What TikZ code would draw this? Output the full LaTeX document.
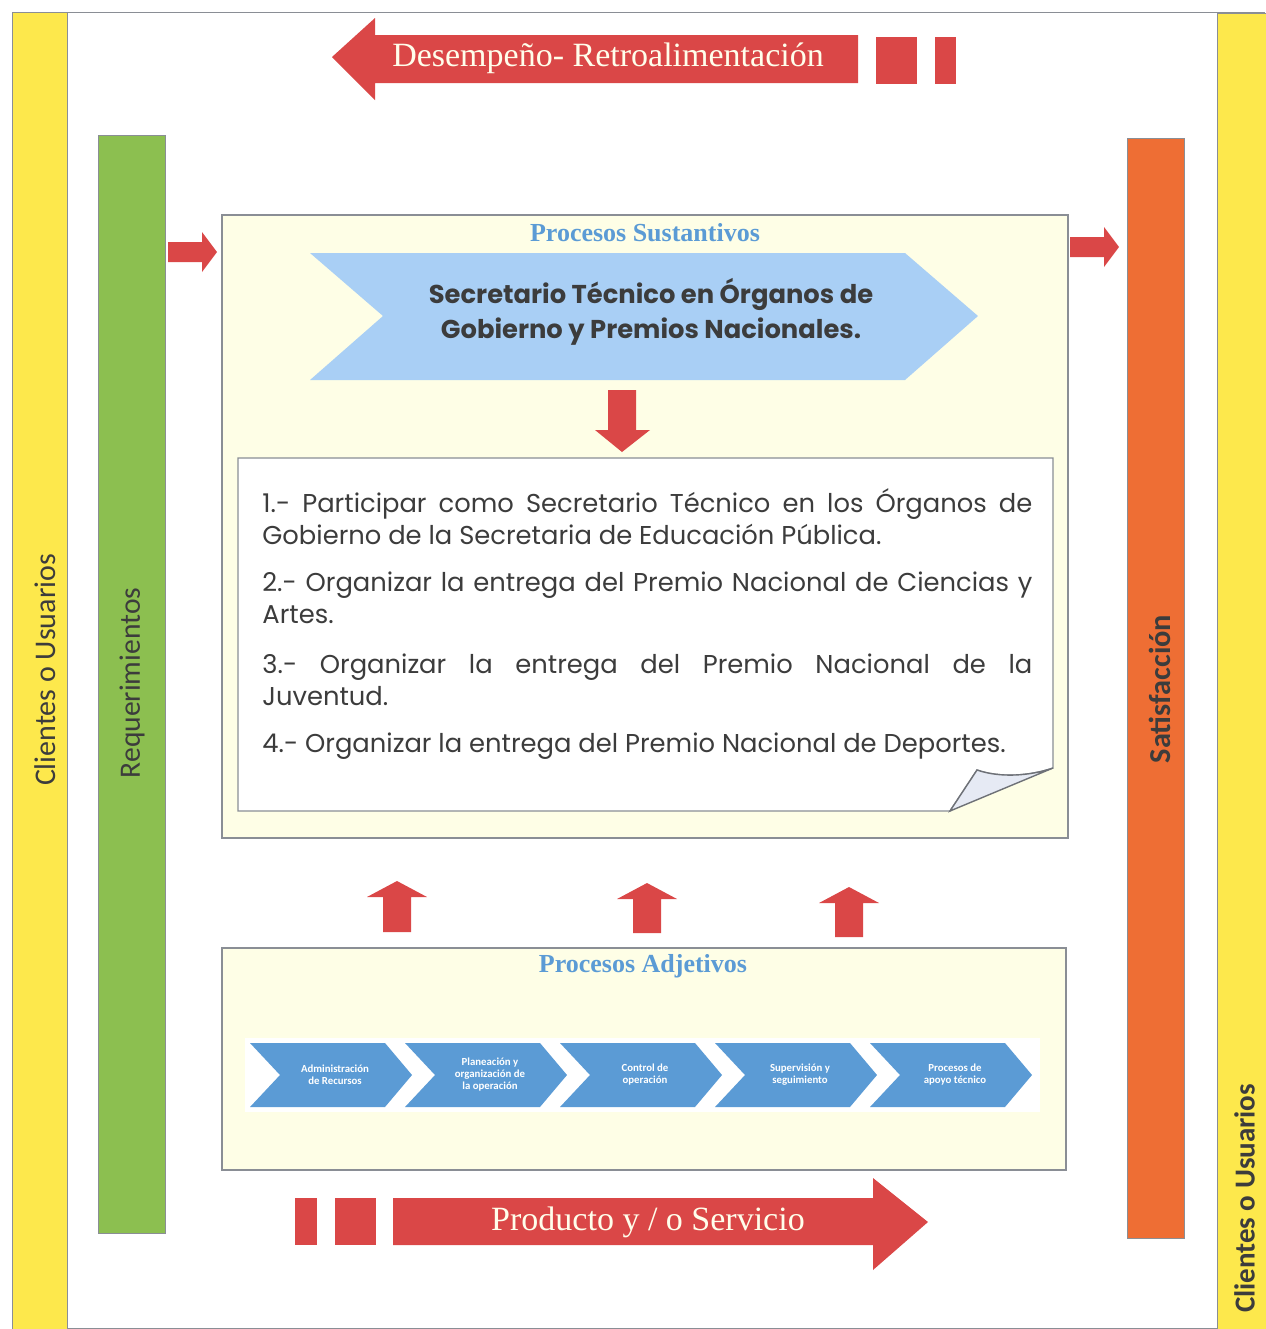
\documentclass[tikz,border=0pt]{standalone}
\usepackage{fontspec}
\setmainfont{Liberation Serif}
\setsansfont{Carlito}
\newfontfamily\gothic{Poppins}
\usetikzlibrary{positioning}

\definecolor{usuYellow}{HTML}{FDE84C}
\definecolor{reqGreen}{HTML}{8CBF50}
\definecolor{satOrange}{HTML}{EE6E34}
\definecolor{flowRed}{HTML}{DA4747}
\definecolor{procCream}{HTML}{FEFEE6}
\definecolor{titleBlue}{HTML}{5B9BD5}
\definecolor{chevLight}{HTML}{A9CFF5}
\definecolor{chevBlue}{HTML}{5B9BD5}
\definecolor{textGrey}{HTML}{3C3C3C}
\definecolor{frameGrey}{HTML}{8A8E95}
\definecolor{flapBlue}{HTML}{E6EAF4}

% block arrows: x, tip y, tail y
\newcommand{\upArrow}[3]{%
  \fill[flowRed] ({#1-14},#3) -- ({#1-14},{#2+16}) -- ({#1-30},{#2+16}) -- (#1,#2)
    -- ({#1+30},{#2+16}) -- ({#1+14},{#2+16}) -- ({#1+14},#3) -- cycle;
}
% tail x, tip x, y
\newcommand{\rightArrow}[3]{%
  \fill[flowRed] (#1,{#3-10}) -- ({#2-15},{#3-10}) -- ({#2-15},{#3-20}) -- (#2,#3)
    -- ({#2-15},{#3+20}) -- ({#2-15},{#3+10}) -- (#1,{#3+10}) -- cycle;
}

\begin{document}
\begin{tikzpicture}[x=0.5pt,y=-0.5pt,
    bar/.style={draw=frameGrey, line width=0.5pt, rotate=90, inner sep=0pt},
    bartext/.style={rotate=90, text=textGrey, font=\sffamily\fontsize{14.8}{17}\selectfont},
    proc/.style={draw=frameGrey, fill=procCream, line width=0.6pt},
    proctitle/.style={text=titleBlue, font=\bfseries\fontsize{13}{15}\selectfont},
    arrowtext/.style={text=white!92!yellow, font=\fontsize{17}{20}\selectfont},
    itemtext/.style={anchor=west, text width=385pt, align=justify, text=textGrey, inner sep=0pt,
      font=\gothic\fontsize{12.9}{16}\selectfont},
    smallchev/.style={text=white, align=center, inner sep=0pt,
      font=\sffamily\bfseries\fontsize{5.4}{6}\selectfont}]
  \useasboundingbox (0,0) rectangle (1265,1329);

  % frame and clients
  \draw[frameGrey, line width=0.5pt] (12,1329) -- (12,12) -- (1265,12);
  \draw[frameGrey, line width=0.4pt] (67,1328) -- (1217,1328);
  \node[bar, fill=usuYellow, minimum width=658.5pt, minimum height=27.5pt] (cliL) at (39.5,670.5) {};
  \node[bartext, font=\sffamily\fontsize{15}{17}\selectfont] (cliLtext) at (45,670) {Clientes o Usuarios};
  \node[bar, fill=usuYellow, minimum width=658pt, minimum height=26pt] (cliR) at (1243,671) {};
  \node[bartext, anchor=south west, font=\sffamily\bfseries\fontsize{14.5}{17}\selectfont] (cliRtext) at (1262,1320) {Clientes o Usuarios};

  % requirements and satisfaction
  \node[bar, fill=reqGreen, minimum width=549pt, minimum height=33.5pt] (req) at (131.5,684) {};
  \node[bartext] (reqtext) at (132,683) {Requerimientos};
  \node[bar, fill=satOrange, minimum width=550pt, minimum height=28.5pt] (sat) at (1155.5,688) {};
  \node[bartext, font=\sffamily\bfseries\fontsize{15.2}{17}\selectfont] (sattext) at (1160,689) {Satisfacción};

  % feedback arrow
  \fill[flowRed] (332,57) -- (375,18) -- (375,35) -- (858,35) -- (858,83) -- (375,83) -- (375,100) -- cycle;
  \fill[flowRed] (876,37) rectangle (917,84);
  \fill[flowRed] (935,37) rectangle (956,84);
  \node[arrowtext] (feedback) at (608,58) {Desempeño- Retroalimentación};

  % product arrow
  \fill[flowRed] (295,1198) rectangle (317,1245);
  \fill[flowRed] (335,1198) rectangle (376,1245);
  \fill[flowRed] (393,1198) -- (873,1198) -- (873,1178) -- (928,1222) -- (873,1270) -- (873,1245) -- (393,1245) -- cycle;
  \node[arrowtext] (product) at (648,1222) {Producto y / o Servicio};

  % sustantive processes
  \draw[proc] (222,215) rectangle (1068,838);
  \node[proctitle] (sust) at (645,233) {Procesos Sustantivos};
  \fill[chevLight] (310,253) -- (905,253) -- (978,316) -- (905,380) -- (310,380) -- (383,316) -- cycle;
  \node[align=center, text=textGrey, font=\gothic\bfseries\fontsize{12.9}{17.5}\selectfont] (secr) at (651,312)
    {Secretario Técnico en Órganos de\\Gobierno y Premios Nacionales.};
  \rightArrow{168}{217}{252}
  \rightArrow{1070}{1119}{247}

  % down arrow
  \fill[flowRed] (608,390) -- (636,390) -- (636,430) -- (650,430) -- (622,452) -- (595,430) -- (608,430) -- cycle;

  % note with folded corner
  \draw[frameGrey, line width=0.7pt, fill=white] (238,458) -- (1053,458) -- (1053,768)
    .. controls (1030,776) and (1000,778) .. (977,770) -- (950,811) -- (238,811) -- cycle;
  \draw[frameGrey!80!black, line width=0.7pt, fill=flapBlue] (977,770) .. controls (1000,778) and (1030,776) .. (1053,768)
    -- (950,811) -- cycle;
  \node[itemtext] (item1) at (262,517) {1.- Participar como Secretario Técnico en los Órganos de\linebreak Gobierno de la Secretaria de Educación Pública.};
  \node[itemtext] (item2) at (262,598) {2.- Organizar la entrega del Premio Nacional de Ciencias y\linebreak Artes.};
  \node[itemtext] (item3) at (262,680) {3.- Organizar la entrega del Premio Nacional de la\linebreak Juventud.};
  \node[itemtext] (item4) at (262,746) {4.- Organizar la entrega del Premio Nacional de Deportes.};

  % up arrows
  \upArrow{397}{881}{932}
  \upArrow{647}{883}{933}
  \upArrow{849}{887}{937}

  % adjective processes
  \draw[proc] (222,948) rectangle (1066,1170);
  \node[proctitle] (adj) at (643,966) {Procesos Adjetivos};
  \fill[white] (245,1038) rectangle (1040,1112);
  \foreach \i/\lbl in {0/{Administración\\de Recursos}, 1/{Planeación y\\organización de\\la operación},
      2/{Control de\\operación}, 3/{Supervisión y\\seguimiento}, 4/{Procesos de\\apoyo técnico}} {
    \fill[chevBlue] ({250+155*\i},1043) -- ++(135,0) -- ++(27,32) -- ++(-27,32) -- ++(-135,0) -- ++(30,-32) -- cycle;
    \node[smallchev] (adj\i) at ({250+155*\i+85},1075) {\lbl};
  }
\end{tikzpicture}
\end{document}
